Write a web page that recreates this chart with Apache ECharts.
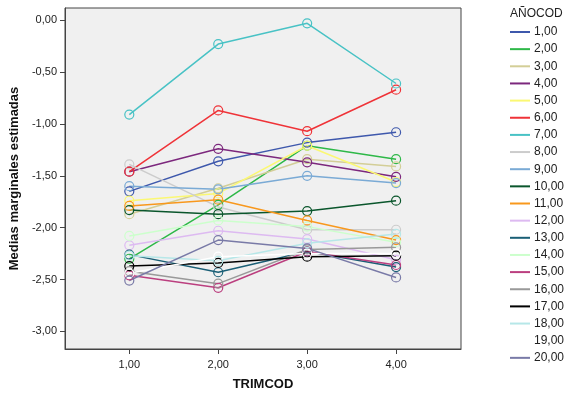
<!DOCTYPE html>
<html><head><meta charset="utf-8">
<script src="https://cdn.jsdelivr.net/npm/echarts@6/dist/echarts.min.js"></script>
<style>html,body{margin:0;padding:0;background:#fff}#c{width:575px;height:396px}</style>
</head><body><div id="c"></div>
<script>
const trimcod = [1, 2, 3, 4];
const xTicks = [1, 2, 3, 4];
const yTicks = [-3, -2.5, -2, -1.5, -1, -0.5, 0];
const groups = ['1,00','2,00','3,00','4,00','5,00','6,00','7,00','8,00','9,00','10,00','11,00','12,00','13,00','14,00','15,00','16,00','17,00','18,00','19,00','20,00'];
const g01 = [-1.65, -1.36, -1.18, -1.08];
const g02 = [-2.30, -1.78, -1.21, -1.34];
const g03 = [-1.87, -1.62, -1.34, -1.41];
const g04 = [-1.46, -1.24, -1.37, -1.51];
const g05 = [-1.74, -1.67, -1.21, -1.56];
const g06 = [-1.46, -0.87, -1.07, -0.67];
const g07 = [-0.91, -0.23, -0.03, -0.61];
const g08 = [-1.39, -1.80, -2.02, -2.02];
const g09 = [-1.60, -1.63, -1.50, -1.57];
const g10 = [-1.83, -1.87, -1.84, -1.74];
const g11 = [-1.79, -1.73, -1.93, -2.12];
const g12 = [-2.17, -2.03, -2.11, -2.31];
const g13 = [-2.26, -2.43, -2.23, -2.38];
const g14 = [-2.08, -1.93, -1.99, -2.14];
const g15 = [-2.46, -2.58, -2.23, -2.36];
const g16 = [-2.42, -2.54, -2.21, -2.19];
const g17 = [-2.37, -2.34, -2.28, -2.27];
const g18 = [-2.27, -2.32, -2.15, -2.06];
const g19 = [-2.44, -2.28, -2.25, -2.25];
const g20 = [-2.51, -2.12, -2.20, -2.48];
const values = [g01,g02,g03,g04,g05,g06,g07,g08,g09,g10,g11,g12,g13,g14,g15,g16,g17,g18,g19,g20];
const colors = ['#3E58AC','#2EB848','#D3CE97','#7C287D','#FBF873','#EF3338','#48C2C5','#CCCCCC','#7AAAD5','#0A562C','#F8981D','#DDBAF1','#1A5F76','#CCFFCC','#BB3F7F','#999999','#000000','#B6E7E8','#FFFFFF','#797AA7'];

const fmt = v => v.toFixed(2).replace('.', ',');
const font = 'Liberation Sans, Arial, sans-serif';

const series = groups.map((g, i) => ({
  name: g, type: 'line',
  data: trimcod.map((x, j) => [x, values[i][j]]),
  symbol: 'circle', symbolSize: 9,
  lineStyle: { width: 1.5, color: colors[i] },
  itemStyle: { color: 'rgba(0,0,0,0)', borderColor: colors[i], borderWidth: 1.2 },
  emphasis: { disabled: true },
  animation: false
}));

const chart = echarts.init(document.getElementById('c'));
chart.setOption({
  animation: false,
  title: { text: 'AÑOCOD', left: 505, top: 3, textStyle: { fontFamily: font, fontSize: 12, fontWeight: 'normal', color: '#222' } },
  legend: {
    orient: 'vertical', left: 505, top: 21, itemWidth: 20, itemHeight: 2, itemGap: 5.15,
    icon: 'rect',
    data: groups.map((g, i) => ({ name: g, itemStyle: { color: colors[i], borderWidth: 0 } })),
    textStyle: { fontFamily: font, fontSize: 12, color: '#222', padding: [0, 0, 0, -1] },
    selectedMode: false
  },
  grid: { left: 65, top: 8, right: 114, bottom: 45, show: true, backgroundColor: '#F0F0F0', borderColor: '#444', borderWidth: 1 },
  xAxis: {
    type: 'value', min: 0.277, max: 4.73,
    name: 'TRIMCOD', nameLocation: 'middle', nameGap: 29,
    nameTextStyle: { fontFamily: font, fontSize: 13, fontWeight: 'bold', color: '#111' },
    axisLine: { show: true, onZero: false, lineStyle: { color: '#444' } },
    axisTick: { show: true, length: 5, customValues: xTicks, lineStyle: { color: '#444' } },
    axisLabel: { customValues: xTicks, formatter: fmt, fontFamily: font, fontSize: 11, color: '#222', margin: 10 },
    splitLine: { show: false }
  },
  yAxis: {
    type: 'value', min: -3.17, max: 0.118,
    name: 'Medias marginales estimadas', nameLocation: 'middle', nameGap: 40,
    nameTextStyle: { fontFamily: font, fontSize: 13, fontWeight: 'bold', color: '#111' },
    axisLine: { show: true, onZero: false, lineStyle: { color: '#444' } },
    axisTick: { show: true, length: 5, customValues: yTicks, lineStyle: { color: '#444' } },
    axisLabel: { customValues: yTicks, formatter: fmt, fontFamily: font, fontSize: 11, color: '#222', margin: 8 },
    splitLine: { show: false }
  },
  series: series
});
</script></body></html>
